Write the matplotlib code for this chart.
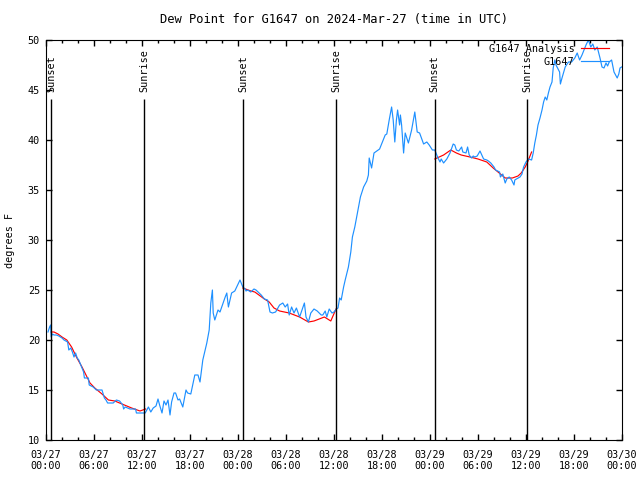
import matplotlib
matplotlib.use("Agg")
import matplotlib.pyplot as plt
import matplotlib.dates as mdates
import pandas as pd

# hours after 2024-03-27 00:00 UTC, dew point in deg F
obs_hours = [0.25, 0.45, 0.58, 0.65, 0.8, 1.0, 1.3, 1.6, 2.0, 2.25, 2.7, 2.85, 3.1, 3.3, 3.5, 3.7,
             3.9, 4.1, 4.5, 4.7, 4.8, 5.3, 5.4, 5.9, 6.3, 7.0, 7.3, 7.5, 7.7, 8.4, 8.8, 9.2,
             9.6, 9.7, 9.9, 10.5, 11.2, 11.3, 12.4, 12.6, 12.8, 13.1, 13.4, 13.75, 14.0, 14.2,
             14.5, 14.75, 15.0, 15.25, 15.5, 15.7, 16.0, 16.2, 16.5, 16.7, 17.1, 17.5, 17.7,
             18.1, 18.6, 19.0, 19.25, 19.6, 20.1, 20.4, 20.6, 20.8, 20.9, 21.1, 21.5, 21.75,
             22.4, 22.6, 22.8, 23.2, 23.6, 23.9, 24.25, 24.6, 24.9, 25.0, 25.2, 25.6, 26.0,
             26.25, 26.9, 27.3, 27.7, 28.0, 28.3, 28.7, 29.2, 29.6, 29.9, 30.2, 30.4, 30.7,
             31.0, 31.3, 31.7, 32.0, 32.3, 32.5, 32.8, 33.1, 33.5, 33.9, 34.4, 34.6, 34.9,
             35.1, 35.4, 35.75, 36.0, 36.3, 36.5, 36.7, 36.9, 37.2, 37.4, 37.8, 38.1, 38.3,
             38.6, 39.0, 39.3, 39.7, 40.1, 40.3, 40.4, 40.7, 41.0, 41.7, 42.0, 42.4, 42.6,
             42.9, 43.2, 43.4, 43.6, 43.8, 43.95, 44.2, 44.3, 44.45, 44.7, 44.9, 45.1, 45.3,
             45.7, 46.1, 46.4, 46.7, 47.2, 47.6, 47.9, 48.3, 48.6, 49.0, 49.25, 49.4, 49.7,
             50.1, 50.5, 50.9, 51.1, 51.3, 51.6, 51.95, 52.1, 52.5, 52.7, 52.9, 53.2, 53.4,
             53.6, 53.9, 54.25, 54.7, 55.1, 55.3, 55.6, 56.0, 56.2, 56.7, 56.8, 57.1, 57.4,
             57.6, 57.9, 58.2, 58.5, 58.6, 58.8, 59.25, 59.5, 59.7, 60.0, 60.3, 60.7, 60.9,
             61.1, 61.3, 61.5, 61.75, 62.0, 62.2, 62.4, 62.6, 62.8, 63.0, 63.25, 63.4, 63.6,
             63.75, 64.2, 64.3, 64.5, 64.9, 65.3, 65.7, 66.1, 66.4, 66.7, 67.0, 67.25, 67.5,
             67.8, 68.1, 68.35, 68.6, 68.9, 69.25, 69.5, 69.75, 70.0, 70.2, 70.4, 70.7, 71.0,
             71.4, 71.6, 71.75, 71.95]
obs_dewpt = [20.8, 21.3, 21.5, 20.3, 20.6, 20.5, 20.5, 20.4, 20.2, 20.0, 19.8, 19.0, 19.2, 18.8,
             18.3, 18.7, 18.2, 18.0, 17.2, 16.8, 16.2, 16.2, 15.5, 15.3, 15.0, 15.0, 14.2, 14.0,
             13.7, 13.7, 14.0, 13.9, 13.5, 13.1, 13.3, 13.1, 13.1, 12.7, 12.7, 13.0, 13.3, 12.8,
             13.2, 13.4, 14.1, 13.5, 12.7, 13.9, 13.5, 14.0, 12.5, 13.8, 14.7, 14.7, 14.0, 14.1,
             13.3, 15.0, 14.7, 14.6, 16.5, 16.5, 15.8, 18.0, 19.7, 21.0, 23.7, 25.0, 22.7, 22.0,
             23.0, 22.8, 24.3, 24.7, 23.3, 24.7, 24.9, 25.4, 26.0, 25.3, 25.1, 24.9, 25.0, 24.8,
             25.1, 25.0, 24.5, 24.1, 24.0, 22.8, 22.7, 22.8, 23.5, 23.7, 23.3, 23.6, 22.5, 23.3,
             22.7, 23.2, 22.3, 23.0, 23.7, 22.3, 21.8, 22.7, 23.1, 22.9, 22.5, 22.5, 22.9, 22.3,
             23.1, 22.7, 22.8, 23.1, 23.2, 24.2, 24.0, 25.3, 26.0, 27.3, 28.8, 30.3, 31.3, 33.0,
             34.3, 35.3, 35.9, 36.5, 38.2, 37.2, 38.7, 39.1, 39.7, 40.5, 40.6, 42.0, 43.3, 42.0,
             39.8, 42.0, 43.0, 41.5, 42.5, 41.5, 38.7, 40.7, 40.2, 39.7, 41.0, 42.8, 40.8, 40.7,
             39.6, 39.8, 39.5, 39.0, 39.0, 38.2, 37.8, 38.1, 37.7, 38.1, 38.7, 39.6, 39.5, 39.0,
             38.9, 39.3, 38.8, 38.7, 39.3, 38.5, 38.2, 38.4, 38.3, 38.4, 38.9, 38.1, 38.0, 37.9,
             37.7, 37.3, 37.0, 36.8, 36.3, 36.6, 35.7, 36.1, 36.3, 36.0, 35.5, 36.0, 36.1, 36.3,
             36.6, 37.3, 37.8, 38.1, 38.0, 38.7, 39.7, 40.5, 41.5, 42.2, 43.0, 43.8, 44.3, 44.0,
             44.7, 45.3, 45.8, 47.2, 48.0, 47.5, 46.8, 45.6, 46.2, 47.3, 47.8, 47.8, 48.2, 48.7,
             48.0, 48.5, 49.0, 49.5, 50.0, 49.3, 49.6, 49.0, 49.3, 48.2, 47.3, 47.2, 47.7, 47.4,
             47.8, 48.0, 46.8, 46.2, 46.6, 47.2, 47.3]

# overnight analysis, one list per night
night1_hours = [0.63, 1.0, 1.5, 2.0, 2.6, 3.2, 3.8, 4.5, 5.0, 5.5, 6.1, 7.0, 7.8, 8.6, 9.5,
                10.7, 11.75, 12.45]
night1_dewpt = [20.8, 20.8, 20.6, 20.3, 20.0, 19.3, 18.3, 17.3, 16.5, 15.7, 15.2, 14.6, 14.0,
                13.9, 13.6, 13.2, 12.9, 13.1]
night2_hours = [24.6, 25.6, 26.1, 27.3, 27.9, 28.5, 29.2, 30.4, 31.7, 32.8, 33.5, 34.8, 35.6, 36.25]
night2_dewpt = [25.2, 24.9, 24.8, 24.1, 23.8, 23.2, 22.9, 22.7, 22.3, 21.8, 21.9, 22.3, 21.9, 23.1]
night3_hours = [48.6, 49.7, 50.6, 51.3, 51.9, 53.0, 54.0, 55.1, 55.9, 56.8, 57.4, 58.3, 59.0,
                59.4, 59.9, 60.2, 60.7]
night3_dewpt = [38.1, 38.5, 39.0, 38.7, 38.5, 38.3, 38.1, 37.8, 37.2, 36.6, 36.2, 36.2, 36.4,
                36.7, 37.3, 37.8, 38.8]

sunset_hours = [0.63, 24.65, 48.6]
sunrise_hours = [12.29, 36.25, 60.17]

start = pd.Timestamp("2024-03-27 00:00")


def to_time(hours):
    return start + pd.to_timedelta(hours, unit="h")


plt.rcParams["font.family"] = "DejaVu Sans Mono"
plt.rcParams["font.size"] = 7.3

fig = plt.figure(figsize=(6.4, 4.8), dpi=100)
ax = fig.add_axes([46 / 640, 40 / 480, 576 / 640, 400 / 480])

first = True
for hrs, vals in [(night1_hours, night1_dewpt), (night2_hours, night2_dewpt),
                  (night3_hours, night3_dewpt)]:
    ax.plot(to_time(hrs), vals, color="#ff0000", lw=0.85,
            label="G1647 Analysis" if first else None)
    first = False
ax.plot(to_time(obs_hours), obs_dewpt, color="#1e90ff", lw=0.85, label="G1647")

for name, hrs in [("Sunset", sunset_hours), ("Sunrise", sunrise_hours)]:
    for t in to_time(hrs):
        ax.vlines(t, 10, 44.1, colors="black", lw=1.0)
        ax.text(t, 44.83, name, rotation=90, ha="center", va="bottom")

ax.set_xlim(start, start + pd.Timedelta(hours=72))
ax.set_ylim(10, 50)
ax.set_yticks(range(10, 51, 5))
ax.xaxis.set_major_locator(mdates.HourLocator(byhour=range(0, 24, 6)))
ax.xaxis.set_minor_locator(mdates.HourLocator(byhour=range(0, 24, 2)))
ax.xaxis.set_major_formatter(mdates.DateFormatter("%m/%d\n%H:%M"))
ax.tick_params(which="both", direction="in", top=True, right=True, width=1)
ax.tick_params(which="major", length=4)
ax.tick_params(which="minor", length=2)
ax.tick_params(axis="x", pad=7)
ax.tick_params(axis="y", pad=4.3)

ax.set_title("Dew Point for G1647 on 2024-Mar-27 (time in UTC)", pad=12)
ax.set_ylabel("degrees F")
ax.yaxis.set_label_coords(-0.054, 0.5)

ax.legend(loc="upper right", bbox_to_anchor=(1 - 13 / 576, 1 - 4 / 400), markerfirst=False,
          frameon=False, handlelength=2.8, handletextpad=0.6, borderaxespad=0, borderpad=0,
          labelspacing=0.3)

fig.savefig("out.png", dpi=100)
